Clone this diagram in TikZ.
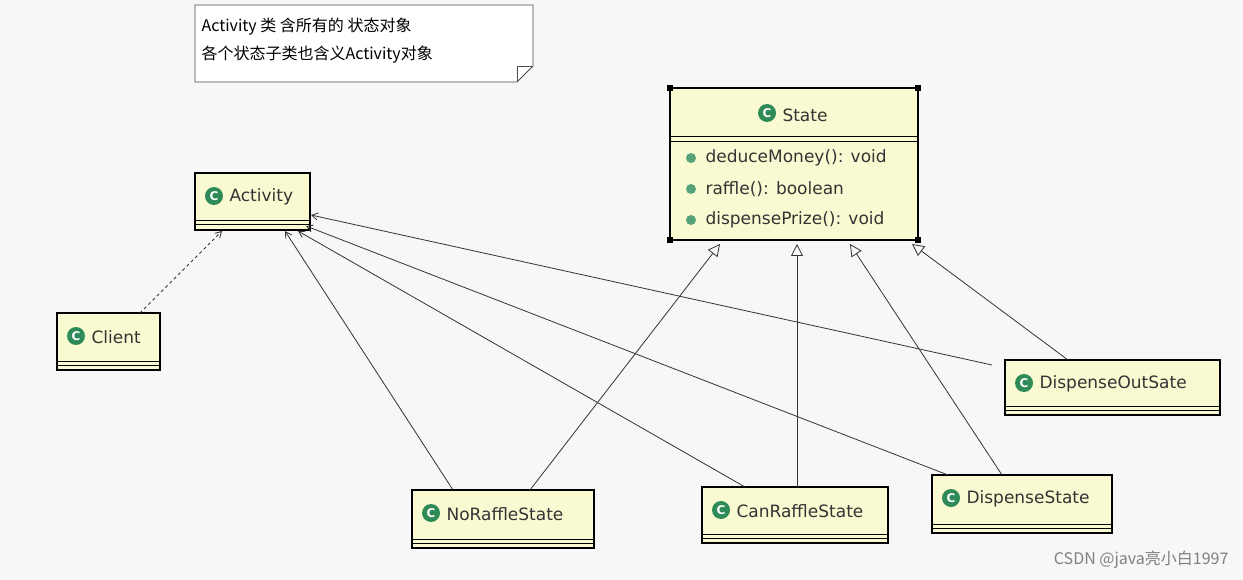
\documentclass[tikz,border=0pt]{standalone}
\usepackage{fontspec}
\setmainfont{DejaVu Sans}
\newfontfamily\cjk{Noto Sans CJK SC}
\usetikzlibrary{arrows.meta}
\definecolor{cfill}{HTML}{FAFAD2}
\definecolor{cgreen}{HTML}{2E8B57}
\tikzset{
 x=1pt,y=-1pt,
 cls/.style={draw=black,line width=1.3pt,fill=cfill},
 lbl/.style={font=\fontsize{17}{19}\selectfont,anchor=west,text=black!80},
 inh/.style={draw=black!80,line width=0.8pt,-{Triangle[open,length=12pt,width=12pt]}},
 asc/.style={draw=black!80,line width=0.8pt,-{Straight Barb[length=6pt,width=7pt]}},
 dep/.style={draw=black!80,line width=0.8pt,dashed,-{Straight Barb[length=6pt,width=7pt]}},
}
\newcommand{\cicon}[1]{\fill[cgreen] #1 circle (9);\node[text=white,font=\bfseries\fontsize{12}{12}\selectfont] at #1 {C};}
\newcommand{\mdot}[1]{\fill[cgreen!80] #1 circle (5);}
\newcommand{\clsbox}[6]{% name, x1,y1,x2,y2,label
 \path[cls] (#2,#3) rectangle (#4,#5);
 \draw[line width=1pt] (#2,#5-9) -- (#4,#5-9) (#2,#5-5) -- (#4,#5-5);
 \coordinate (#1) at ({(#2+#4)/2},{(#3+#5)/2});
 \cicon{(#2+19,#3+23)}
 \node[lbl] (#1-t) at (#2+31,#3+24) {#6};}
\begin{document}
\begin{tikzpicture}
\useasboundingbox (0,0) rectangle (1243,580);
\fill[black!3] (0,0) rectangle (1243,580);
% note
\path[draw=black!70,fill=white,line width=0.8pt] (195,5) -- (533,5) -- (533,66) -- (517,82) -- (195,82) -- cycle;
\draw[black!70,line width=0.8pt] (517,82) -- (517,66) -- (533,66);
\node[anchor=west,font=\cjk\fontsize{16}{18}\selectfont] (n1) at (198,27) {Activity 类 含所有的 状态对象};
\node[anchor=west,font=\cjk\fontsize{16}{18}\selectfont] (n2) at (198,55) {各个状态子类也含义Activity对象};
% State
\path[cls] (670,88) rectangle (918,240);
\draw[line width=1pt] (670,137) -- (918,137) (670,142) -- (918,142);
\foreach \p in {(670,88),(918,88),(670,240),(918,240)} \fill \p +(-3,-3) rectangle +(3,3);
\cicon{(767,113)}
\node[lbl] (st) at (779,115) {State};
\mdot{(691,158)}\node[lbl] (m1) at (702,158) {deduceMoney(): void};
\mdot{(691,189)}\node[lbl] (m2) at (702,189) {raffle(): boolean};
\mdot{(691,220)}\node[lbl] (m3) at (702,220) {dispensePrize(): void};
\coordinate (State) at (794,164);
\clsbox{Act}{195}{173}{310}{230}{Activity}
\clsbox{Cli}{57}{313}{160}{370}{Client}
\clsbox{DOS}{1005}{360}{1220}{415}{DispenseOutSate}
\clsbox{NRS}{412}{490}{594}{548}{NoRaffleState}
\clsbox{CRS}{702}{487}{888}{543}{CanRaffleState}
\clsbox{DS}{932}{475}{1112}{533}{DispenseState}
% inheritance
\draw[inh] (530,490) -- (720,244);
\draw[inh] (797,487) -- (797,244);
\draw[inh] (1002,475) -- (850,244);
\draw[inh] (1068,360) -- (912,244);
% associations
\draw[asc] (453,490) -- (285,231);
\draw[asc] (745,487) -- (298,231);
\draw[asc] (948,475) -- (306,226);
\draw[asc] (992,365) -- (311,215);
\draw[dep] (140,313) -- (222,231);
\node[font=\cjk\fontsize{16}{18}\selectfont,text=black!50,anchor=east] (wm) at (1232,560) {CSDN @java亮小白1997};
\end{tikzpicture}
\end{document}
